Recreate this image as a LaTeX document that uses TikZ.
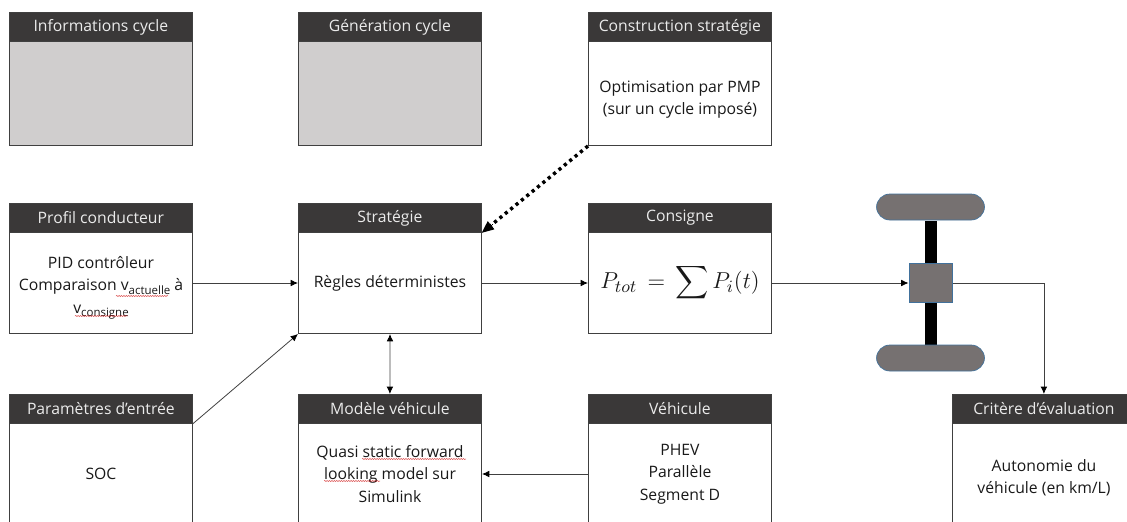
\documentclass[tikz,border=0pt]{standalone}
\usepackage{fontspec}
\setmainfont{Open Sans}
\usepackage{amsmath}
\usetikzlibrary{arrows.meta,decorations.pathmorphing}
\definecolor{headdk}{HTML}{3A3838}
\definecolor{bodygr}{HTML}{D0CECE}
\definecolor{wheelgr}{HTML}{767171}
\definecolor{wheeledge}{HTML}{41719C}
\definecolor{linegr}{HTML}{404040}
\tikzset{
  x=0.75pt,y=-0.75pt,
  headbox/.style={draw=black!75,fill=headdk,text=white!92!black,minimum width=137.25pt,minimum height=21.75pt,inner sep=0pt,font=\fontsize{11.8pt}{13pt}\selectfont,anchor=north west,line width=0.6pt},
  bodybox/.style={draw=linegr,line width=0.75pt,fill=white,minimum width=137.25pt,inner sep=0pt,anchor=north west,align=center,font=\fontsize{11.8pt}{16.8pt}\selectfont,text=black!90},
  arrowtip/.style={-{Latex[length=5.5pt,width=5pt,black]}},
  conn/.style={draw=linegr,line width=0.6pt,arrowtip},
  wheel/.style={draw=wheeledge,line width=0.5pt,fill=wheelgr,rounded corners=10pt,minimum width=81pt,minimum height=19.5pt,inner sep=0pt},
  squig/.style={draw=red!80!black,line width=0.3pt,decorate,decoration={snake,amplitude=0.35pt,segment length=1.8pt}}
}
\newcommand{\sbs}[2]{#1\raisebox{-0.22em}{\fontsize{8.6pt}{10pt}\selectfont #2}}
\begin{document}
\begin{tikzpicture}
\useasboundingbox (0,0) rectangle (1127,521);
% top row
\node[headbox] (h1) at (9,12) {Informations cycle};
\node[bodybox,fill=bodygr,minimum height=78pt] (b1) at (9,41) {};
\node[headbox] (h2) at (298,12) {Génération cycle};
\node[bodybox,fill=bodygr,minimum height=78pt] (b2) at (298,41) {};
\node[headbox] (h3) at (588,12) {Construction stratégie};
\node[bodybox,minimum height=78pt] (b3) at (588,41) {\rule{0pt}{18pt}Optimisation par PMP\\(sur un cycle imposé)};
% middle row
\node[headbox] (h4) at (9,203) {Profil conducteur};
\node[bodybox,minimum height=75.75pt] (b4) at (9,232) {\rule{0pt}{16.5pt}PID contrôleur\\Comparaison \sbs{v}{actuelle} à\\\sbs{v}{consigne}};
\node[headbox] (h5) at (298,203) {Stratégie};
\node[bodybox,minimum height=75.75pt] (b5) at (298,232) {Règles déterministes};
\node[headbox] (h6) at (588,203) {Consigne};
\node[bodybox,minimum height=75.75pt] (b6) at (588,232) {\scalebox{1.44}{\fontsize{13pt}{15pt}\selectfont$P_{tot}\,=\,\displaystyle\sum P_i(t)$}};
% bottom row
\node[headbox] (h7) at (9,394) {Paramètres d’entrée};
\node[bodybox,minimum height=75.75pt] (b7) at (9,423) {SOC};
\node[headbox] (h8) at (298,394) {Modèle véhicule};
\node[bodybox,minimum height=75.75pt] (b8) at (298,423) {Quasi static forward\\looking model sur\\Simulink};
\node[headbox] (h9) at (588,394) {Véhicule};
\node[bodybox,minimum height=75.75pt] (b9) at (588,423) {PHEV\\Parallèle\\Segment D};
\node[headbox] (h10) at (952,394) {Critère d’évaluation};
\node[bodybox,minimum height=75.75pt] (b10) at (952,423) {\rule{0pt}{15pt}Autonomie du\\véhicule (en km/L)};
% axle
\fill[black] (924.5,221) rectangle (937,345);
\node[wheel] (w1) at (930.5,207) {};
\node[wheel] (w2) at (930.5,358) {};
\node[draw=wheeledge,line width=0.5pt,fill=wheelgr,minimum width=32.5pt,minimum height=29.5pt,inner sep=0pt] (gb) at (930.5,283) {};
% connectors
\draw[conn] (b4.east) -- (b5.west);
\draw[conn] (h7.south east) -- (b5.south west);
\draw[conn] (b5.east) -- (b6.west);
\draw[conn] (b6.east) -- (gb.west);
\draw[conn] (gb.east) -| (h10.north);
\draw[conn,{Latex[length=5.5pt,width=5pt,black]}-{Latex[length=5.5pt,width=5pt,black]}] (b5.south) -- (h8.north);
\draw[conn] (b9.west) -- (b8.east);
\draw[line width=2.6pt,black,dash pattern=on 2.4pt off 2.8pt,shorten >=7pt] (b3.south west) -- (h5.south east);
\path (b3.south west) -- (h5.south east) coordinate[pos=0.9] (dt);
\draw[line width=0pt,-{Triangle[length=9pt,width=8pt,black]}] (dt) -- (h5.south east);
% spelling marks printed in the picture
\draw[squig] (116,296) -- (168,296);
\draw[squig] (75,316) -- (128,316);
\draw[squig] (362,459) -- (466,459);
\draw[squig] (324,481) -- (380,481);
\end{tikzpicture}
\end{document}
